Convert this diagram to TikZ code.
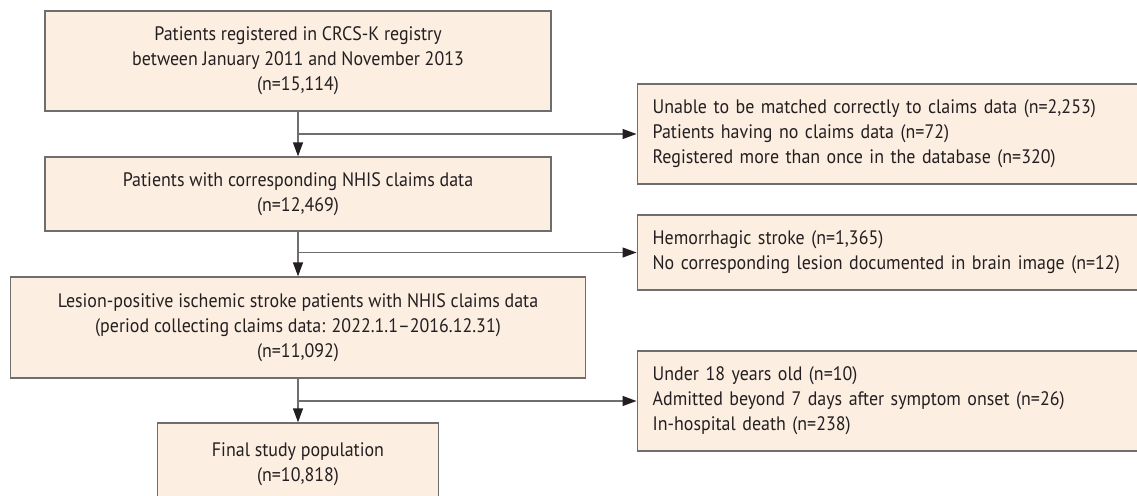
\documentclass[tikz,border=0pt]{standalone}
\usepackage{fontspec}
\setmainfont{PT Sans}[FakeStretch=0.92]
\usetikzlibrary{arrows.meta}
\definecolor{boxfill}{HTML}{FDEEE2}
\definecolor{boxline}{HTML}{6E6E6E}
\definecolor{tipcol}{HTML}{231F20}
\tikzset{
  flowbox/.style={draw=boxline, fill=boxfill, line width=1.3pt, inner sep=0pt,
    font=\fontsize{19.5}{25}\selectfont, text=tipcol, align=center},
  sidebox/.style={draw=boxline, fill=boxfill, line width=1.3pt, inner xsep=15.5pt, inner ysep=0pt,
    font=\fontsize{19.5}{25}\selectfont, text=tipcol, align=left, anchor=west},
  conn/.style={draw=boxline, line width=1.3pt, -{Triangle[length=14pt,width=10pt,fill=tipcol,color=tipcol]}}
}
\begin{document}
\begin{tikzpicture}[x=1pt,y=-1pt]
\useasboundingbox (0,0) rectangle (1137,495);
\node[flowbox, minimum width=506pt, minimum height=100pt] (b1) at (298,61)
  {Patients registered in CRCS-K registry\\between January 2011 and November 2013\\(n=15,114)};
\node[flowbox, minimum width=506pt, minimum height=74pt] (b2) at (298,194)
  {Patients with corresponding NHIS claims data\\(n=12,469)};
\node[flowbox, minimum width=575pt, minimum height=101pt] (b3) at (298,327.5)
  {Lesion-positive ischemic stroke patients with NHIS claims data\\(period collecting claims data: 2022.1.1--2016.12.31)\\(n=11,092)};
\node[flowbox, minimum width=281pt, minimum height=82pt] (b4) at (298,464)
  {Final study population\\(n=10,818)};
\node[sidebox, text width=482pt, minimum height=100pt] (r1) at (636.5,134)
  {Unable to be matched correctly to claims data (n=2,253)\\Patients having no claims data (n=72)\\Registered more than once in the database (n=320)};
\node[sidebox, text width=482pt, minimum height=75pt] (r2) at (636.5,252.5)
  {Hemorrhagic stroke (n=1,365)\\No corresponding lesion documented in brain image (n=12)};
\node[sidebox, text width=482pt, minimum height=100pt] (r3) at (636.5,401)
  {Under 18 years old (n=10)\\Admitted beyond 7 days after symptom onset (n=26)\\In-hospital death (n=238)};
\coordinate (j1) at (b1.south |- r1.west);
\coordinate (j2) at (b2.south |- r2.west);
\coordinate (j3) at (b3.south |- r3.west);
\draw[conn] (b1.south) -- (b2.north);
\draw[conn] (b2.south) -- (b3.north);
\draw[conn] (b3.south) -- (b4.north);
\draw[conn] (j1) -- (r1.west);
\draw[conn] (j2) -- (r2.west);
\draw[conn] (j3) -- (r3.west);
\end{tikzpicture}
\end{document}
